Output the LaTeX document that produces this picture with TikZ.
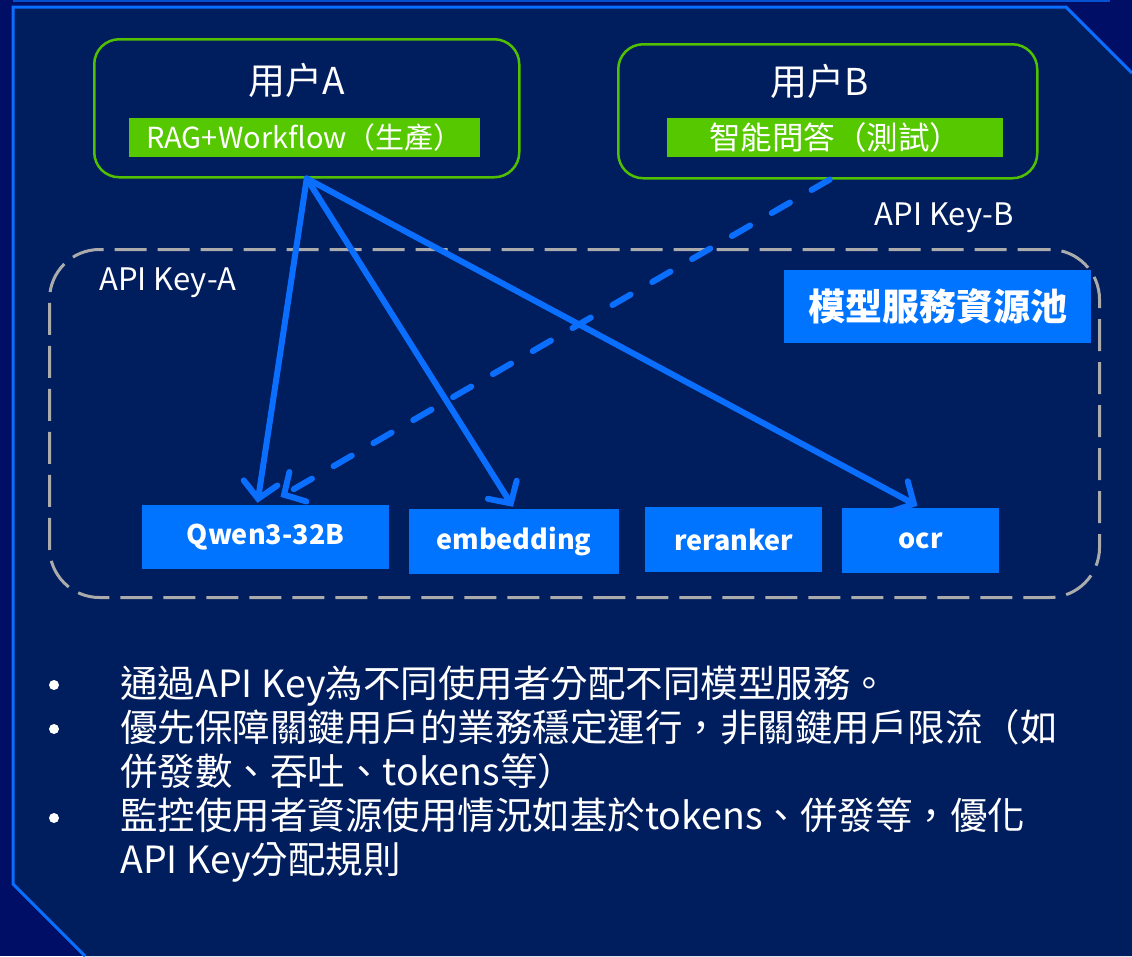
\documentclass[tikz,border=0pt]{standalone}
\usepackage{fontspec}
\setmainfont{Noto Sans CJK TC}
\usetikzlibrary{arrows.meta,calc}
\definecolor{bgout}{HTML}{000E66}
\definecolor{bgin}{HTML}{001D5E}
\definecolor{framec}{HTML}{0A6EFF}
\definecolor{ugreen}{HTML}{55C800}
\definecolor{uline}{HTML}{50C000}
\definecolor{mblue}{HTML}{0073FF}
\definecolor{dgray}{HTML}{ABABAB}
\definecolor{ablue}{HTML}{0A6EFF}
\tikzset{
  userbox/.style={draw=uline, line width=2.5pt, rounded corners=25pt, anchor=north west},
  usertitle/.style={text=white, font=\fontsize{37}{42}\selectfont, inner sep=0pt},
  greenbar/.style={fill=ugreen, text=white, inner sep=0pt},
  keylabel/.style={text=white, font=\fontsize{31}{36}\selectfont, inner sep=0pt},
  pool/.style={draw=dgray, line width=3pt, dash pattern=on 32pt off 11pt, rounded corners=50pt, anchor=north west},
  modelbox/.style={fill=mblue, text=white, font=\bfseries\fontsize{27}{31}\selectfont, inner sep=0pt},
  titlebox/.style={fill=mblue, text=white, font=\bfseries\fontsize{37}{42}\selectfont, inner sep=0pt},
  link/.style={draw=ablue, line width=6pt, line cap=round, -{Straight Barb[length=16pt,width=34pt,line cap=round]}},
  dlink/.style={link, dash pattern=on 21pt off 25pt},
  bodytext/.style={text=white, font=\fontsize{37.5}{44}\selectfont, inner sep=0pt, anchor=base west},
  bulletdot/.style={circle, fill=white, inner sep=0pt, minimum size=10pt},
}
\begin{document}
\begin{tikzpicture}[x=1pt,y=-1pt]
% backgrounds
\fill[bgout] (0,0) rectangle (1132,956);
\useasboundingbox (0,0) rectangle (1132,956);
\fill[bgin] (13,7) -- (1066,7) -- (1132,73) -- (1132,956) -- (85,956) -- (13,884) -- cycle;
\draw[framec, line width=3pt] (85,956) -- (13,884) -- (13,7) -- (1066,7) -- (1132,73);
\draw[framec!70!bgout, line width=2pt] (13,1) -- (1110,1);

% user boxes
\node[userbox, minimum width=425pt, minimum height=138pt] (ua) at (93,38) {};
\node[usertitle] (uat) at (297,80) {用户A};
\node[greenbar, font=\fontsize{29}{33}\selectfont, minimum width=351pt, minimum height=39pt] (uag) at (304.5,137.5) {RAG+Workflow（生產）};

\node[userbox, minimum width=419pt, minimum height=134pt] (ub) at (617,43) {};
\node[usertitle] (ubt) at (820,81) {用户B};
\node[greenbar, font=\fontsize{31.5}{35}\selectfont, minimum width=336pt, minimum height=39pt] (ubg) at (835,137.5) {智能問答（測試）};

% pool
\node[pool, minimum width=1050pt, minimum height=348pt] (pool) at (48,248) {};
\node[keylabel] (keyb) at (944,218) {API Key-B};
\node[keylabel] (keya) at (168,283) {API Key-A};
\node[titlebox, minimum width=307pt, minimum height=73pt] (title) at (937.5,306.5) {模型服務資源池};

% model boxes
\node[modelbox, minimum width=247pt, minimum height=64pt] (qwen) at (265.5,537) {Qwen3-32B};
\node[modelbox, minimum width=210pt, minimum height=65pt] (emb) at (514,541.5) {embedding};
\node[modelbox, minimum width=177pt, minimum height=65pt] (rer) at (733.5,539.5) {reranker};
\node[modelbox, minimum width=157pt, minimum height=65pt] (ocr) at (920.5,540.5) {ocr};

% connectors
\draw[link] (ua.south) -- ($(qwen.north)+(-8,-2)$);
\draw[link] (ua.south) -- ($(emb.north)+(-1,-2)$);
\draw[link] (ua.south) -- ($(ocr.north)+(-3,-2)$);
\draw[dlink] ($(ub.south)+(2,0)$) -- ($(qwen.north)+(15,-8)$);

% bullet list
\node[bulletdot] (b1) at (54,685) {};
\node[bodytext] (t1) at (120,697) {通過API Key為不同使用者分配不同模型服務。};
\node[bulletdot] (b2) at (54,729) {};
\node[bodytext] (t2) at (120,741) {優先保障關鍵用戶的業務穩定運行，非關鍵用戶限流（如};
\node[bodytext] (t3) at (120,785) {併發數、吞吐、tokens等）};
\node[bulletdot] (b3) at (54,818) {};
\node[bodytext] (t4) at (120,829) {監控使用者資源使用情況如基於tokens、併發等，優化};
\node[bodytext] (t5) at (120,873) {API Key分配規則};
\end{tikzpicture}
\end{document}
